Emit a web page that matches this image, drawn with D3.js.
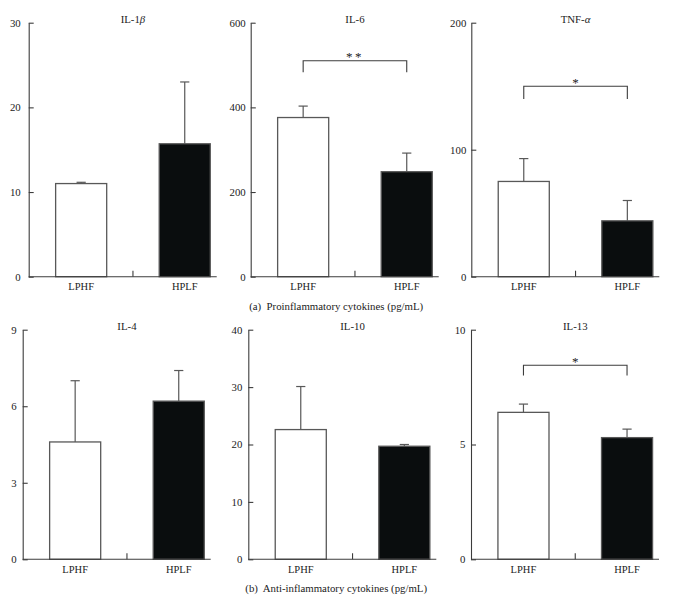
<!DOCTYPE html>
<html><head><meta charset="utf-8">
<script src="https://cdn.jsdelivr.net/npm/d3@7"></script>
<style>
html,body{margin:0;padding:0;background:#fff;}
svg{display:block;}
text{font-family:"Liberation Serif","DejaVu Serif",serif;fill:#222;}
</style></head>
<body>
<svg id="chart" width="682" height="602"></svg>
<script>
// ---- data ----
const titleBase = ["IL-1", "IL-6", "TNF-", "IL-4", "IL-10", "IL-13"];
const titleGreek = ["β", "", "α", "", "", ""];
const categories = ["LPHF", "HPLF"];
const lphfMean = [11.0, 376, 75, 4.6, 22.6, 6.4];
const lphfSD   = [0.15, 27, 18, 2.4, 7.5, 0.36];
const hplfMean = [15.7, 248, 44, 6.2, 19.7, 5.3];
const hplfSD   = [7.3, 44, 16, 1.2, 0.3, 0.37];
const yMax = [30, 600, 200, 9, 40, 10];
const yTicks = [[0,10,20,30],[0,200,400,600],[0,100,200],[0,3,6,9],[0,10,20,30,40],[0,5,10]];
const sigLabel  = ["", "**", "*", "", "", "*"];
const sigTop    = [null, 510, 150, null, null, 8.45];
const sigBottom = [null, 483, 140, null, null, 8.0];
const captions = ["(a)  Proinflammatory cytokines (pg/mL)", "(b)  Anti-inflammatory cytokines (pg/mL)"];

// ---- layout ----
const panelLeft = [28.7, 250.7, 471.3, 22.7, 248.3, 471];
const rowTop = [22.7, 329.7];
const rowBottom = [276.7, 559.3];
const labelPad = [8, 5, 5, 6, 6, 5.5];
const captionY = [309.5, 592];
const axisLen = 188;
const axisColor = "#3c3c3c";
const barStroke = "#585858";

const svg = d3.select("#chart");

panelLeft.forEach((left, i) => {
  const row = i < 3 ? 0 : 1;
  const top = rowTop[row], bottom = rowBottom[row];
  const g = svg.append("g").attr("transform", `translate(${left},0)`);
  const x = d3.scaleBand().domain(categories).range([0, 208.5]).paddingInner(0.507).paddingOuter(0.26);
  const y = d3.scaleLinear().domain([0, yMax[i]]).range([bottom, top]);

  const means = [lphfMean[i], hplfMean[i]];
  const sds = [lphfSD[i], hplfSD[i]];
  const data = categories.map((c, k) => ({c, m: means[k], s: sds[k], k}));

  // error bars (upward only)
  const cx = d => x(d.c) + x.bandwidth() / 2;
  g.selectAll(".err").data(data).enter().append("line")
    .attr("x1", cx).attr("x2", cx)
    .attr("y1", d => y(d.m)).attr("y2", d => y(d.m + d.s))
    .attr("stroke", barStroke).attr("stroke-width", 1.2);
  g.selectAll(".cap").data(data).enter().append("line")
    .attr("x1", d => cx(d) - 4.6).attr("x2", d => cx(d) + 4.6)
    .attr("y1", d => y(d.m + d.s)).attr("y2", d => y(d.m + d.s))
    .attr("stroke", barStroke).attr("stroke-width", 1.2);

  // bars
  g.selectAll(".bar").data(data).enter().append("rect")
    .attr("x", d => x(d.c)).attr("width", x.bandwidth())
    .attr("y", d => y(d.m)).attr("height", d => y(0) - y(d.m))
    .attr("fill", d => d.k === 0 ? "#fff" : "#0a0d0e")
    .attr("stroke", barStroke).attr("stroke-width", 1.3);

  // y axis
  const ya = g.append("g").call(d3.axisLeft(y).tickValues(yTicks[i]).tickSizeInner(-5).tickSizeOuter(0).tickPadding(labelPad[i]));
  ya.select(".domain").attr("stroke", axisColor).attr("stroke-width", 1.1);
  ya.selectAll(".tick line").attr("stroke", axisColor).attr("stroke-width", 1.1);
  ya.selectAll(".tick text").attr("font-size", 10.8).attr("font-family", "Liberation Serif").attr("fill", "#222");

  // x axis baseline
  g.append("line").attr("x1", 0).attr("x2", axisLen).attr("y1", y(0)).attr("y2", y(0))
    .attr("stroke", axisColor).attr("stroke-width", 1.1);
  // center tick
  const mid = (x(categories[0]) + x.bandwidth() + x(categories[1])) / 2;
  g.append("line").attr("x1", mid).attr("x2", mid).attr("y1", y(0)).attr("y2", y(0) - 6)
    .attr("stroke", axisColor).attr("stroke-width", 1.1);

  // category labels
  g.selectAll(".cat").data(categories).enter().append("text")
    .attr("x", d => x(d) + x.bandwidth() / 2).attr("y", y(0) + 13.5)
    .attr("text-anchor", "middle").attr("font-size", 10.5).text(d => d);

  // title
  const t = g.append("text").attr("x", mid).attr("y", top + 0.5)
    .attr("text-anchor", "middle").attr("font-size", 10.8);
  t.append("tspan").text(titleBase[i]);
  if (titleGreek[i]) t.append("tspan").attr("font-style", "italic").text(titleGreek[i]);

  // significance bracket
  if (sigLabel[i]) {
    const x1 = cx(data[0]), x2 = cx(data[1]);
    const yt = y(sigTop[i]), yb = y(sigBottom[i]);
    g.append("path").attr("d", `M${x1},${yb}V${yt}H${x2}V${yb}`)
      .attr("fill", "none").attr("stroke", axisColor).attr("stroke-width", 1.1);
    g.append("text").attr("x", (x1 + x2) / 2).attr("y", yt + 0.5)
      .attr("text-anchor", "middle").attr("font-size", 13)
      .attr("letter-spacing", sigLabel[i].length > 1 ? 2.5 : 0)
      .text(sigLabel[i]);
  }
});

// captions
svg.selectAll(".caption").data(captions).enter().append("text")
  .attr("x", 336.2).attr("y", (d, k) => captionY[k])
  .attr("text-anchor", "middle").attr("font-size", 10.8)
  .attr("xml:space", "preserve").style("white-space", "pre")
  .text(d => d);
</script>
</body></html>
